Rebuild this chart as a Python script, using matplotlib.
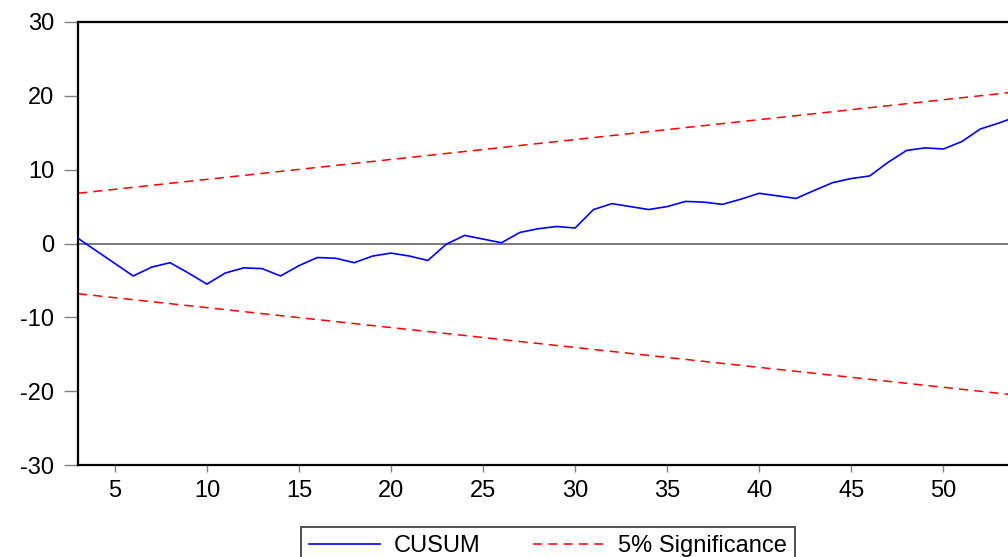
import matplotlib
matplotlib.use("Agg")
import matplotlib.pyplot as plt
import numpy as np

# ---- data ----
periods = list(range(3, 55))
cusum = [0.7, -1.0, -2.7, -4.4, -3.2, -2.6, -4.0, -5.5, -4.0, -3.3,
         -3.4, -4.4, -3.0, -1.9, -2.0, -2.6, -1.7, -1.3, -1.7, -2.3,
         -0.1, 1.1, 0.6, 0.1, 1.5, 2.0, 2.3, 2.1, 4.6, 5.4,
         5.0, 4.6, 5.0, 5.7, 5.6, 5.3, 6.0, 6.8, 6.45, 6.1,
         7.2, 8.25, 8.8, 9.15, 11.0, 12.6, 12.95, 12.8, 13.8, 15.5,
         16.3, 17.2]
sig_x = [3, 54]
sig_upper = [6.8, 20.55]
sig_lower = [-6.8, -20.55]
xticks = [5, 10, 15, 20, 25, 30, 35, 40, 45, 50]
yticks = [-30, -20, -10, 0, 10, 20, 30]
labels = ["CUSUM", "5% Significance"]

plt.rcParams['font.family'] = ['Liberation Sans', 'DejaVu Sans']
plt.rcParams['axes.unicode_minus'] = False

fig = plt.figure(figsize=(10.08, 5.57), dpi=100)
W, H = 1008, 557
left_px, right_px, top_px, bot_px = 78, 1017, 22, 465
ax = fig.add_axes([left_px / W, (H - bot_px) / H,
                   (right_px - left_px) / W, (bot_px - top_px) / H])

ax.axhline(0, color='#555555', lw=1.1, zorder=1)
l1, = ax.plot(periods, cusum, color='#0000ff', lw=1.2, zorder=3)
l2, = ax.plot(sig_x, sig_upper, color='#ff0000', lw=1.1, ls=(0, (6, 4)), zorder=2)
ax.plot(sig_x, sig_lower, color='#ff0000', lw=1.1, ls=(0, (6, 4)), zorder=2)

ax.set_xlim(3, 54)
ax.set_ylim(-30, 30)
ax.set_xticks(xticks)
ax.set_yticks(yticks)
ax.tick_params(axis='y', length=10, width=1, color='#808080', pad=7,
               labelsize=17, direction='out')
ax.tick_params(axis='x', length=5, width=1, color='#808080', pad=6,
               labelsize=17, direction='out')
for s in ax.spines.values():
    s.set_linewidth(1.6)
    s.set_color('black')

leg = fig.legend([l1, l2], labels, loc='upper center',
                 bbox_to_anchor=(548 / W, 1 - 527 / H), ncol=2,
                 fontsize=17, frameon=True, fancybox=False, shadow=False,
                 handlelength=3.0, handletextpad=0.6, columnspacing=2.2,
                 borderpad=0.35, borderaxespad=0)
leg.get_frame().set_edgecolor('black')
leg.get_frame().set_linewidth(1.2)

fig.savefig('out.png', dpi=100)
